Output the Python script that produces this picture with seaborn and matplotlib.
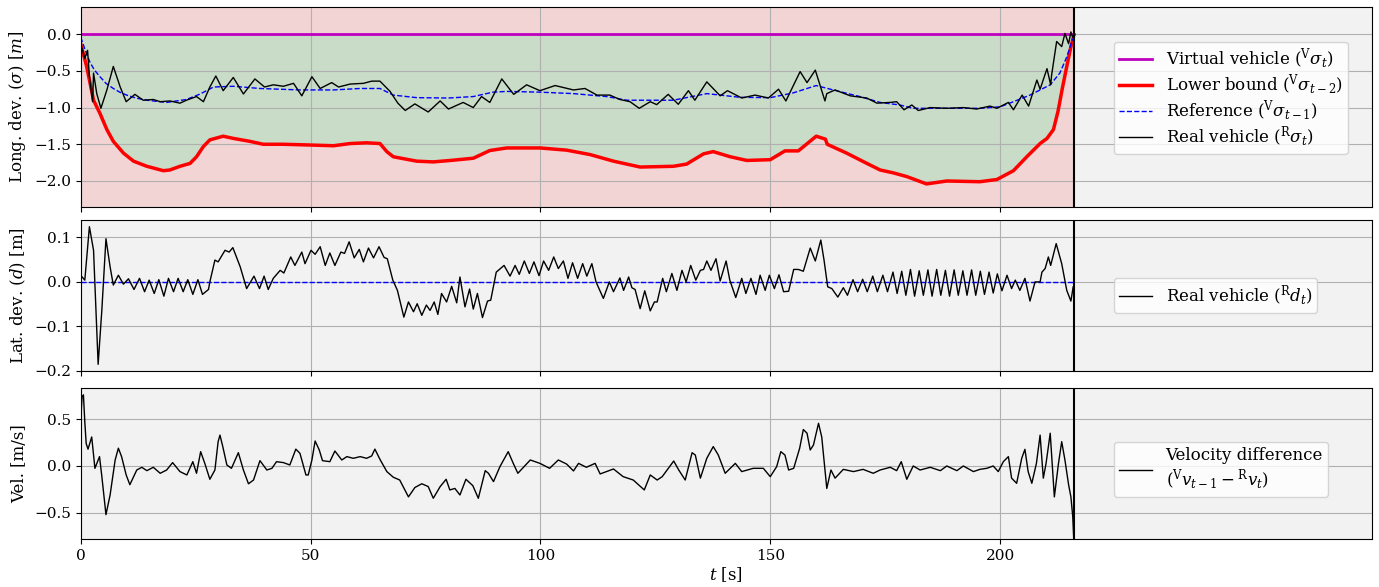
"""
Recreates the three panel tracking plot: longitudinal deviation,
lateral deviation and velocity difference of the real vehicle
against the virtual vehicle.
"""

import matplotlib
matplotlib.use('Agg')
import matplotlib.pyplot as plt
import seaborn as sns

T_END = 216.0

# Lower bound of the longitudinal deviation (t [s], sigma [m])
lower_bound = [
    (0, -0.13), (1.3, -0.44), (2.8, -0.90), (4.2, -1.08), (5.7, -1.30),
    (7.1, -1.46), (9.3, -1.62), (11.5, -1.73), (14.4, -1.80), (18, -1.86),
    (19.4, -1.85), (21.6, -1.80), (23.8, -1.76), (25.2, -1.67),
    (26.7, -1.53), (28.1, -1.44), (31, -1.39), (33.2, -1.42),
    (36.8, -1.46), (39.7, -1.50), (44, -1.50), (49.9, -1.51), (55, -1.52),
    (58.6, -1.49), (62.2, -1.48), (65.1, -1.49), (66.6, -1.60),
    (68, -1.67), (73.1, -1.73), (76.7, -1.74), (80.5, -1.72),
    (85.4, -1.69), (89, -1.585), (92.7, -1.55), (99.9, -1.55),
    (105.7, -1.58), (110.8, -1.64), (115.9, -1.73), (121.7, -1.81),
    (128.9, -1.80), (131.8, -1.77), (135.5, -1.63), (137.6, -1.60),
    (141.3, -1.67), (144.9, -1.72), (150, -1.71), (153.2, -1.59),
    (156.1, -1.59), (160, -1.39), (162, -1.43), (162.4, -1.50),
    (166.6, -1.62), (171, -1.76), (173.9, -1.85), (176.8, -1.89),
    (179.7, -1.94), (184, -2.04), (188.4, -2.00), (195.6, -2.01),
    (199.3, -1.98), (202.9, -1.86), (205.8, -1.67), (208.7, -1.49),
    (210.2, -1.42), (211.6, -1.30), (212.6, -1.05), (213.5, -0.75),
    (214.5, -0.44), (215.3, -0.20), (215.9, -0.05),
]

# Reference deviation (blue dashed)
reference = [
    (0, -0.04), (1, -0.22), (2, -0.38), (3, -0.49), (4.2, -0.58),
    (5.5, -0.67), (7.1, -0.74), (8.5, -0.79), (10, -0.83), (12, -0.87),
    (14.4, -0.90), (18.7, -0.93), (23, -0.89), (26, -0.815), (28.9, -0.72),
    (33.2, -0.71), (39, -0.74), (47.7, -0.76), (55, -0.76), (60.8, -0.74),
    (65.1, -0.74), (68, -0.83), (73.1, -0.865), (80, -0.87), (85.4, -0.85),
    (89.7, -0.79), (92.7, -0.78), (99.9, -0.79), (107.2, -0.81),
    (114.4, -0.85), (118.8, -0.90), (128.9, -0.90), (136.2, -0.81),
    (143.4, -0.86), (150, -0.865), (155, -0.80), (160, -0.70),
    (163.7, -0.76), (169.5, -0.85), (173.9, -0.93), (178.2, -0.965),
    (181.1, -1.01), (195.6, -1.01), (200, -0.99), (202.9, -0.92),
    (206.5, -0.83), (210.9, -0.69), (213, -0.53), (214.5, -0.31),
    (215.8, -0.06),
]

# Real vehicle longitudinal deviation (black)
real_sigma = [
    (0, -0.13), (0.9, -0.33), (1.5, -0.22), (1.9, -0.58), (2.6, -0.92),
    (2.8, -0.53), (3.5, -0.81), (4.4, -1.01), (5.7, -0.76), (7.1, -0.44),
    (8.6, -0.72), (9.9, -0.92), (11.8, -0.82), (13.6, -0.90),
    (15.8, -0.89), (17.3, -0.92), (19.4, -0.91), (21.6, -0.94),
    (23, -0.90), (25.2, -0.85), (26.7, -0.92), (28.1, -0.72),
    (29.4, -0.57), (31, -0.77), (33.2, -0.59), (35.4, -0.815),
    (37.9, -0.61), (40, -0.72), (41.9, -0.69), (44.1, -0.71),
    (46.3, -0.67), (48.1, -0.84), (50.3, -0.58), (52.1, -0.74),
    (54.6, -0.66), (56.1, -0.72), (58.6, -0.68), (61.5, -0.67),
    (63.3, -0.64), (65.1, -0.64), (67.3, -0.78), (69, -0.94),
    (70.6, -1.04), (72.7, -0.95), (75.6, -1.06), (78.2, -0.91),
    (80, -1.02), (83.2, -0.93), (85.4, -1.00), (87.2, -0.85), (89, -0.93),
    (91.6, -0.61), (94.2, -0.82), (97, -0.69), (99.9, -0.77),
    (103.2, -0.70), (107.2, -0.76), (109.7, -0.74), (112.3, -0.83),
    (115.1, -0.83), (117.3, -0.89), (119.5, -0.92), (121.5, -1.01),
    (123.9, -0.92), (125.3, -0.96), (127.8, -0.82), (130, -0.955),
    (132.2, -0.77), (133.6, -0.90), (136.2, -0.65), (139.1, -0.84),
    (140.7, -0.77), (143.8, -0.87), (146.7, -0.83), (149.6, -0.87),
    (151.8, -0.75), (153.4, -0.91), (156.5, -0.51), (158, -0.66),
    (159.8, -0.49), (161.9, -0.91), (162.3, -0.81), (164.1, -0.76),
    (167.4, -0.84), (171, -0.87), (173.2, -0.94), (176.1, -0.93),
    (177.5, -0.92), (179.1, -1.03), (180.8, -0.965), (182.2, -1.04),
    (184.8, -1.00), (188.4, -1.01), (192, -1.00), (194.9, -1.02),
    (197.8, -0.98), (199.3, -1.01), (201.8, -0.93), (202.9, -1.03),
    (204.8, -0.83), (206.2, -0.98), (208, -0.625), (208.7, -0.75),
    (210.2, -0.47), (211, -0.69), (211.2, -0.56), (212.3, -0.10),
    (213.4, -0.17), (214.1, 0.01), (214.9, -0.13), (215.4, 0.03),
    (215.8, -0.04),
]

# Real vehicle lateral deviation d [m]
real_d = [
    (0, 0.015), (0.9, 0.004), (1.9, 0.124), (2.8, 0.071), (3.8, -0.185),
    (4.6, -0.064), (5.5, 0.097), (6.4, 0.034), (7.1, -0.007), (8.2, 0.015),
    (9.3, -0.005), (10.4, 0.007), (11.6, -0.017), (12.8, 0.008),
    (13.9, -0.022), (14.9, 0.004), (16, -0.026), (17, 0.005),
    (18.1, -0.032), (19.1, 0.008), (20.2, -0.022), (21.2, 0.008),
    (22.3, -0.022), (23.3, 0.005), (24.4, -0.028), (25.5, 0.005),
    (26.5, -0.028), (27.8, -0.017), (28.1, 0.0), (29.2, 0.049),
    (29.9, 0.045), (31.4, 0.071), (32.3, 0.067), (33.1, 0.077),
    (34.7, 0.034), (36.1, -0.015), (37.7, 0.013), (38.9, -0.015),
    (39.9, 0.013), (40.8, -0.017), (41.9, 0.008), (43.4, 0.026),
    (44.2, 0.02), (45.7, 0.056), (46.6, 0.037), (48.1, 0.067),
    (48.8, 0.041), (50.1, 0.071), (51, 0.062), (52.1, 0.079),
    (53.2, 0.037), (54.2, 0.065), (55.3, 0.037), (56.6, 0.067),
    (57.4, 0.064), (58.4, 0.09), (59.5, 0.054), (60.6, 0.073),
    (61.5, 0.045), (62.6, 0.076), (63.7, 0.054), (64.9, 0.079),
    (66, 0.055), (66.7, 0.052), (67.9, 0.004), (68.9, -0.019),
    (70.3, -0.079), (71.3, -0.045), (72.4, -0.067), (73.2, -0.049),
    (74.2, -0.075), (75.2, -0.052), (76, -0.064), (76.9, -0.045),
    (77.7, -0.073), (78.5, -0.026), (79.6, -0.045), (80.7, -0.01),
    (81.8, -0.047), (82.5, 0.011), (83.6, -0.056), (84.6, -0.016),
    (85.4, -0.061), (86.3, -0.026), (87.4, -0.080), (88.5, -0.043),
    (89.2, -0.041), (90.4, 0.022), (91.3, 0.030), (92.1, 0.037),
    (93.4, 0.013), (94.5, 0.037), (95.4, 0.017), (96.5, 0.047),
    (97.6, 0.019), (98.6, 0.045), (99.7, 0.014), (100.7, 0.047),
    (101.8, 0.026), (102.9, 0.056), (103.9, 0.03), (105, 0.047),
    (106, 0.008), (107, 0.043), (108.1, 0.008), (109.2, 0.041),
    (110.1, 0.013), (111.2, 0.041), (112.1, 0.0), (113.7, -0.037),
    (115, 0.0), (115.9, -0.022), (117.3, 0.009), (118.1, -0.019),
    (119.2, 0.011), (119.9, -0.013), (120.6, -0.017), (121.7, -0.06),
    (122.7, -0.02), (123.9, -0.065), (124.8, -0.045), (125.4, -0.045),
    (126.6, 0.008), (127.4, -0.022), (128.6, 0.019), (129.7, -0.019),
    (130.8, 0.026), (131.7, 0.0), (132.7, 0.037), (133.8, 0.004),
    (134.8, 0.026), (135.5, 0.028), (136.2, 0.047), (137.1, 0.026),
    (138.2, 0.052), (139.1, 0.002), (140.4, 0.047), (141.2, 0.004),
    (142.5, -0.035), (143.8, 0.008), (144.7, -0.026), (145.8, 0.008),
    (146.9, -0.028), (147.8, 0.015), (148.9, -0.019), (149.8, 0.015),
    (150.9, -0.015), (151.9, 0.016), (152.9, -0.022), (154, -0.021),
    (155.1, 0.028), (156.1, 0.028), (157.2, 0.024), (158.7, 0.076),
    (159.8, 0.047), (161, 0.094), (161.7, 0.049), (162.5, -0.011),
    (163.4, -0.015), (164.7, -0.034), (165.9, -0.013), (166.8, -0.03),
    (168, 0.005), (169, -0.022), (170.1, 0.006), (171.1, -0.022),
    (172.3, 0.013), (173.3, -0.022), (174.5, 0.015), (175.5, -0.022),
    (176.7, 0.022), (177.6, -0.026), (178.6, 0.024), (179.5, -0.030),
    (180.5, 0.028), (181.4, -0.032), (182.4, 0.025), (183.3, -0.030),
    (184.3, 0.027), (185.2, -0.032), (186.2, 0.028), (187.1, -0.030),
    (188.1, 0.026), (189.0, -0.032), (190.0, 0.027), (190.9, -0.030),
    (191.9, 0.025), (192.8, -0.030), (193.8, 0.027), (194.7, -0.030),
    (195.7, 0.024), (196.6, -0.028), (197.6, 0.022), (198.5, -0.025),
    (199.4, 0.018), (200.4, -0.020), (201.5, 0.015), (202.5, -0.015),
    (203.3, 0.004), (204.3, -0.019), (205.4, 0.008), (206.5, -0.043),
    (207.6, 0.0), (208.7, 0.0), (209.1, 0.022), (209.8, 0.030),
    (210.5, 0.056), (211, 0.037), (212.2, 0.086), (213.4, 0.041),
    (214.5, -0.019), (215.4, -0.043), (215.9, -0.011),
]

# Velocity difference [m/s]
vel_diff = [
    (0, 0.456), (0.3, 0.74), (0.6, 0.76), (0.9, 0.47), (1.2, 0.24),
    (1.6, 0.18), (2.4, 0.31), (3.1, -0.025), (4.1, 0.10), (4.6, -0.11),
    (5.5, -0.52), (6.4, -0.31), (7.5, 0.064), (8.2, 0.19), (8.9, 0.10),
    (9.9, -0.096), (10.7, -0.20), (12.2, -0.043), (13.3, -0.014),
    (14.4, -0.05), (15.8, -0.014), (17.3, -0.078), (18.7, -0.043),
    (20, 0.036), (21.6, -0.06), (23.1, -0.096), (24.4, 0.046),
    (25.2, -0.078), (26.1, 0.153), (27, 0.028), (28.1, -0.142),
    (29.2, -0.043), (29.9, 0.26), (30.3, 0.33), (30.9, 0.21),
    (31.8, 0.011), (32.8, -0.025), (34.3, 0.142), (35.4, -0.043),
    (36.5, -0.19), (37.6, -0.15), (39, 0.057), (40.5, -0.043),
    (41.6, -0.025), (42.6, 0.046), (44.1, 0.036), (45.5, 0.011),
    (46.8, 0.18), (47.7, 0.135), (49, -0.096), (49.5, -0.096),
    (50.3, 0.064), (51, 0.267), (51.9, 0.171), (52.6, 0.057),
    (54.2, 0.046), (55.3, 0.16), (56.8, 0.064), (57.9, 0.10),
    (59.3, 0.082), (60.8, 0.10), (62.2, 0.082), (63.3, 0.107), (64, 0.18),
    (65.1, 0.071), (66.6, -0.06), (68, -0.12), (69.4, -0.15),
    (71.3, -0.33), (72.7, -0.23), (74.2, -0.19), (75.6, -0.22),
    (76.7, -0.345), (78.2, -0.22), (79.5, -0.142), (80.3, -0.256),
    (81.4, -0.24), (82.5, -0.31), (83.8, -0.142), (85.3, -0.21),
    (86.5, -0.345), (88, -0.05), (88.7, -0.078), (89.8, -0.167),
    (91.2, -0.007), (93, 0.153), (94.1, 0.028), (95.1, -0.078),
    (97.8, 0.064), (99.9, 0.028), (102, -0.025), (103.9, 0.064),
    (105.7, 0.021), (107.2, -0.053), (108.3, 0.028), (110, -0.014),
    (111.9, 0.028), (113, -0.085), (115.9, -0.032), (118, -0.114),
    (120.2, -0.15), (122.6, -0.256), (123.9, -0.096), (125.4, -0.15),
    (126.5, -0.114), (129, 0.053), (130.1, -0.043), (131.5, -0.15),
    (133, 0.142), (133.7, 0.117), (134.8, -0.13), (136.2, 0.082),
    (137.6, 0.207), (138.7, 0.117), (140.2, -0.078), (142.4, 0.028),
    (143.8, -0.06), (146.3, -0.025), (148.5, -0.025), (150, -0.114),
    (151.4, -0.007), (152.3, 0.153), (153.2, 0.117), (154, -0.043),
    (155.1, -0.025), (156.4, 0.19), (157.2, 0.39), (158, 0.35),
    (158.7, 0.171), (159.4, 0.224), (160.5, 0.456), (161.2, 0.31),
    (162.3, -0.24), (163.2, -0.043), (164.1, -0.13), (165.9, -0.036),
    (168.1, -0.06), (170.2, -0.036), (172.4, -0.078), (173.9, -0.043),
    (176.1, -0.014), (177.5, -0.05), (178.5, 0.046), (179.7, -0.142),
    (181.1, 0.0), (182.6, -0.043), (184.8, -0.014), (187, -0.05),
    (188.4, 0.0), (190.6, -0.05), (192, 0.0), (194.2, -0.06),
    (195.6, -0.036), (197.1, -0.025), (198.5, 0.0), (199.6, -0.06),
    (200.7, 0.046), (201.8, 0.10), (202.5, -0.13), (203.6, -0.185),
    (204.7, 0.082), (205.4, 0.178), (206.1, -0.06), (206.9, -0.185),
    (207.9, 0.028), (208.7, 0.33), (209.4, -0.13), (210, 0.028),
    (210.9, 0.35), (211.8, -0.33), (212.7, 0.028), (213.4, 0.26),
    (214.1, 0.064), (214.9, -0.2), (215.4, -0.33), (215.8, -0.54),
    (216, -0.755),
]

X_TICKS = [0, 50, 100, 150, 200]
SIGMA_TICKS = [-2.0, -1.5, -1.0, -0.5, 0.0]
D_TICKS = [-0.2, -0.1, 0.0, 0.1]
VEL_TICKS = [-0.5, 0.0, 0.5]
BG = '#f2f2f2'
RED_BG = '#f2d4d4'
GREEN_BG = '#c8dcc8'
LEGEND_KW = dict(loc='center left', labelspacing=0.1, borderpad=0.3)


def split(pairs):
    """Splits a list of (t, value) pairs into two lists."""
    return [p[0] for p in pairs], [p[1] for p in pairs]


def line(ax, pairs, **kwargs):
    """Draws one series as a seaborn line."""
    t, v = split(pairs)
    sns.lineplot(x=t, y=v, ax=ax, estimator=None, sort=False, **kwargs)


def plot_longitudinal(ax):
    t, lb = split(lower_bound)
    ax.axvspan(0, T_END, color=RED_BG, lw=0, zorder=0.5)
    ax.fill_between(t, lb, 0, color=GREEN_BG, lw=0, zorder=0.6)
    line(ax, [(0, 0.0), (T_END, 0.0)], color='m', linewidth=2,
         label=r'Virtual vehicle (${}^\mathrm{V}\sigma_t$)')
    line(ax, lower_bound, color='r', linewidth=2.5,
         label=r'Lower bound (${}^\mathrm{V}\sigma_{t-2}$)')
    line(ax, reference, color='b', linewidth=1, linestyle='--',
         label=r'Reference (${}^\mathrm{V}\sigma_{t-1}$)')
    line(ax, real_sigma, color='k', linewidth=1,
         label=r'Real vehicle (${}^\mathrm{R}\sigma_t$)')
    ax.set_ylim(-2.35, 0.37)
    ax.set_yticks(SIGMA_TICKS)
    ax.set_ylabel(r'Long. dev. ($\sigma$) [$m$]')
    ax.legend(bbox_to_anchor=(0.794, 0.545), **LEGEND_KW)


def plot_lateral(ax):
    line(ax, [(0, 0.0), (T_END, 0.0)], color='b', linewidth=1,
         linestyle='--')
    line(ax, real_d, color='k', linewidth=1,
         label=r'Real vehicle (${}^\mathrm{R}d_t$)')
    ax.set_ylim(-0.2, 0.139)
    ax.set_yticks(D_TICKS)
    ax.set_ylabel(r'Lat. dev. ($d$) [m]')
    ax.legend(bbox_to_anchor=(0.794, 0.5), **LEGEND_KW)


def plot_velocity(ax):
    line(ax, vel_diff, color='k', linewidth=1,
         label='Velocity difference\n'
               r'(${}^\mathrm{V}v_{t-1} - {}^\mathrm{R}v_t$)')
    ax.set_ylim(-0.78, 0.83)
    ax.set_yticks(VEL_TICKS)
    ax.set_ylabel('Vel. [m/s]')
    ax.set_xlabel(r'$t$ [s]', labelpad=2)
    ax.legend(bbox_to_anchor=(0.794, 0.463), **LEGEND_KW)


def main():
    plt.rcParams['font.family'] = ['DejaVu Serif']
    plt.rcParams['mathtext.fontset'] = 'dejavuserif'
    plt.rcParams['font.size'] = 12
    plt.rcParams['xtick.labelsize'] = 11
    plt.rcParams['ytick.labelsize'] = 11

    fig, axes = plt.subplots(3, 1, sharex=True, figsize=(13.79, 5.87),
                             dpi=100)
    positions = [
        [0.0585, 0.6479, 0.9361, 0.3402],
        [0.0585, 0.3680, 0.9361, 0.2572],
        [0.0585, 0.0818, 0.9361, 0.2567],
    ]
    for ax, pos in zip(axes, positions):
        ax.set_position(pos)
        ax.set_facecolor(BG)
        ax.grid(True, color='#b0b0b0', linewidth=0.8)

    plot_longitudinal(axes[0])
    plot_lateral(axes[1])
    plot_velocity(axes[2])

    for ax in axes:
        ax.axvline(T_END, color='k', linewidth=1.5)
        ax.set_xlim(0, 1.3 * T_END)
        ax.set_xticks(X_TICKS)
    fig.align_ylabels(axes)
    fig.savefig('out.png', dpi=100)


if __name__ == '__main__':
    main()
